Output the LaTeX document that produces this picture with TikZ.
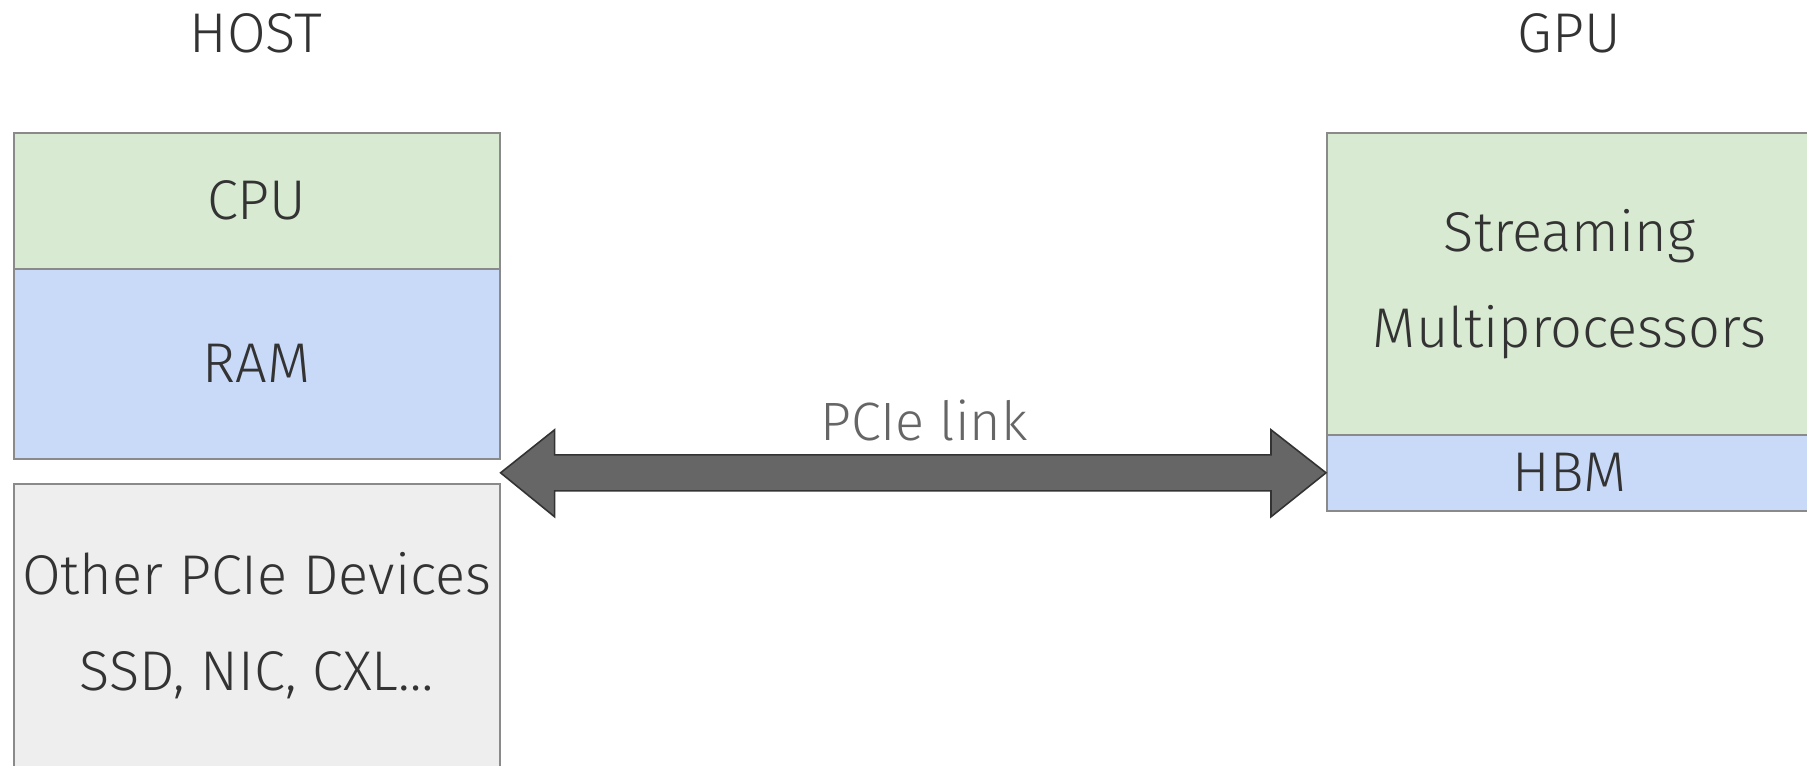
\documentclass[tikz,border=0pt]{standalone}
\usepackage{fontspec}
\setmainfont{Fira Sans}[UprightFont=* Light]
\usetikzlibrary{calc}
\definecolor{boxgreen}{HTML}{D9EAD3}
\definecolor{boxblue}{HTML}{C9DAF8}
\definecolor{boxgray}{HTML}{EEEEEE}
\definecolor{boxline}{HTML}{8A8A8A}
\definecolor{txt}{HTML}{333333}
\definecolor{linkfill}{HTML}{666666}
\definecolor{linkline}{HTML}{333333}
\tikzset{
  blk/.style={draw=boxline, line width=0.8pt, anchor=north west, inner sep=0pt,
    text=txt, align=center, font=\fontsize{28}{48}\selectfont},
  title/.style={anchor=base, text=txt, inner sep=0pt, font=\fontsize{28}{35}\selectfont},
  linklabel/.style={anchor=base, text=linkfill, inner sep=0pt, font=\fontsize{27}{33}\selectfont},
  linkarrow/.style={fill=linkfill, draw=linkline, line width=0.8pt, line join=miter}
}
\begin{document}
\begin{tikzpicture}[x=0.5pt,y=-0.5pt]
\useasboundingbox (0,0) rectangle (1807,765);
\clip (0,0) rectangle (1807,765);
% host
\node[title] (host) at (256,53) {HOST};
\node[blk, fill=boxgreen, minimum width=243pt, minimum height=68pt] (cpu) at (13,132) {CPU};
\node[blk, fill=boxblue, minimum width=243pt, minimum height=95pt] (ram) at (13,268) {RAM};
\node[blk, fill=boxgray, minimum width=243pt, minimum height=142pt] (other) at (13,483) {Other PCIe Devices\\SSD, NIC, CXL\ldots};
% gpu
\node[title] (gpu) at (1569,53) {GPU};
\node[blk, fill=boxgreen, minimum width=243pt, minimum height=151pt] (sm) at (1326,132) {Streaming\\Multiprocessors};
\node[blk, fill=boxblue, minimum width=243pt, minimum height=38pt] (hbm) at (1326,434) {HBM};
% link
\coordinate (L) at (ram.south east |- hbm.west);
\coordinate (R) at (hbm.west);
\draw[linkarrow] (L) -- ($(L)+(54,-43)$) -- ($(L)+(54,-18)$) -- ($(R)+(-55,-18)$)
  -- ($(R)+(-55,-43)$) -- (R) -- ($(R)+(-55,44)$) -- ($(R)+(-55,18)$)
  -- ($(L)+(54,18)$) -- ($(L)+(54,44)$) -- cycle;
\node[linklabel] (lbl) at (924,440) {PCIe link};
\end{tikzpicture}
\end{document}
